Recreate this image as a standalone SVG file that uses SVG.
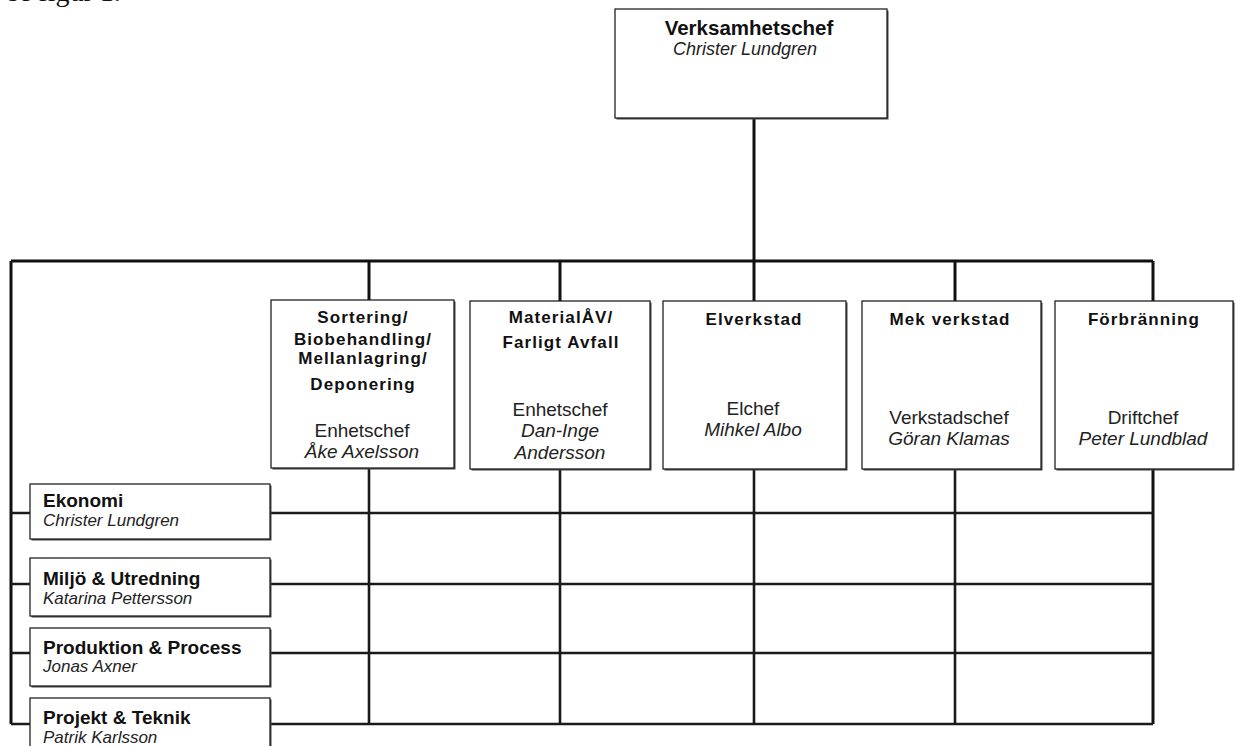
<svg xmlns="http://www.w3.org/2000/svg" width="1235" height="746" viewBox="0 0 1235 746">
<style>
.bg{fill:#fff}
.box{fill:#fff;stroke:#222;stroke-width:1.3}
.sh{fill:#444}
.ln{stroke:#111;stroke-width:3;fill:none}
.gl{stroke:#1a1a1a;stroke-width:2.6;fill:none}
.t{font-family:"Liberation Sans",Arial,sans-serif;fill:#111}
.hb{font-weight:bold;font-size:17px;letter-spacing:1.1px;text-anchor:middle}
.rg{font-size:19px;text-anchor:middle;fill:#222}
.it{font-style:italic;fill:#222}
.lb{font-weight:bold;font-size:19px}
.li{font-style:italic;font-size:17px;fill:#222}
</style>
<rect class="bg" x="0" y="0" width="1235" height="746"/>
<text x="8" y="0.5" font-family="Liberation Serif, serif" font-size="28" fill="#111">se figur 1.</text>
<g id="connectors">
<line class="ln" x1="754" y1="119" x2="754" y2="261"/>
<line class="ln" x1="11" y1="261" x2="1153" y2="261"/>
<line class="ln" x1="11" y1="261" x2="11" y2="724"/>
<line class="ln" x1="1153" y1="261" x2="1153" y2="724"/>
<line class="ln" x1="369" y1="261" x2="369" y2="300"/>
<line class="ln" x1="560" y1="261" x2="560" y2="301"/>
<line class="ln" x1="754" y1="261" x2="754" y2="301"/>
<line class="ln" x1="955" y1="261" x2="955" y2="301"/>
<line class="gl" x1="369" y1="468" x2="369" y2="724"/>
<line class="gl" x1="560" y1="469" x2="560" y2="724"/>
<line class="gl" x1="754" y1="469" x2="754" y2="724"/>
<line class="gl" x1="955" y1="469" x2="955" y2="724"/>
<line class="gl" x1="11" y1="513" x2="1153" y2="513"/>
<line class="gl" x1="11" y1="584" x2="1153" y2="584"/>
<line class="gl" x1="11" y1="653" x2="1153" y2="653"/>
<line class="gl" x1="11" y1="724" x2="1153" y2="724"/>
</g>
<g id="verksamhetschef">
<rect class="sh" x="616.5" y="10.5" width="272" height="109"/>
<rect class="box" x="615" y="9" width="272" height="109"/>
<text class="t" x="749" y="35" font-weight="bold" font-size="20.5" text-anchor="middle">Verksamhetschef</text>
<text class="t it" x="745" y="55" font-size="18" text-anchor="middle">Christer Lundgren</text>
</g>
<g id="sortering">
<rect class="sh" x="272.5" y="301.5" width="183" height="168"/>
<rect class="box" x="271" y="300" width="183" height="168"/>
<text class="t hb" x="363" y="323">Sortering/</text>
<text class="t hb" x="363" y="345">Biobehandling/</text>
<text class="t hb" x="363" y="364">Mellanlagring/</text>
<text class="t hb" x="363" y="390">Deponering</text>
<text class="t rg" x="362" y="437">Enhetschef</text>
<text class="t rg it" x="362" y="458">Åke Axelsson</text>
</g>
<g id="material">
<rect class="sh" x="471.5" y="302.5" width="180" height="168"/>
<rect class="box" x="470" y="301" width="180" height="168"/>
<text class="t hb" x="561" y="323">MaterialÅV/</text>
<text class="t hb" x="561" y="348">Farligt Avfall</text>
<text class="t rg" x="560" y="416">Enhetschef</text>
<text class="t rg it" x="560" y="437">Dan-Inge</text>
<text class="t rg it" x="560" y="459">Andersson</text>
</g>
<g id="elverkstad">
<rect class="sh" x="664.5" y="302.5" width="183" height="168"/>
<rect class="box" x="663" y="301" width="183" height="168"/>
<text class="t hb" x="754" y="325">Elverkstad</text>
<text class="t rg" x="753" y="415">Elchef</text>
<text class="t rg it" x="753" y="436">Mihkel Albo</text>
</g>
<g id="mekverkstad">
<rect class="sh" x="863.5" y="302.5" width="179" height="168"/>
<rect class="box" x="862" y="301" width="179" height="168"/>
<text class="t hb" x="950" y="325">Mek verkstad</text>
<text class="t rg" x="949" y="424">Verkstadschef</text>
<text class="t rg it" x="949" y="445">Göran Klamas</text>
</g>
<g id="forbranning">
<rect class="sh" x="1056.5" y="302.5" width="178" height="168"/>
<rect class="box" x="1055" y="301" width="178" height="168"/>
<text class="t hb" x="1144" y="325">Förbränning</text>
<text class="t rg" x="1143" y="424">Driftchef</text>
<text class="t rg it" x="1143" y="445">Peter Lundblad</text>
</g>
<g id="ekonomi">
<rect class="sh" x="31.5" y="485.5" width="240" height="55"/>
<rect class="box" x="30" y="484" width="240" height="55"/>
<text class="t lb" x="43" y="507">Ekonomi</text>
<text class="t li" x="43" y="526">Christer Lundgren</text>
</g>
<g id="miljo">
<rect class="sh" x="31.5" y="559.5" width="240" height="58"/>
<rect class="box" x="30" y="558" width="240" height="58"/>
<text class="t lb" x="43" y="585">Miljö &amp; Utredning</text>
<text class="t li" x="43" y="604">Katarina Pettersson</text>
</g>
<g id="produktion">
<rect class="sh" x="31.5" y="629.5" width="240" height="58"/>
<rect class="box" x="30" y="628" width="240" height="58"/>
<text class="t lb" x="43" y="654">Produktion &amp; Process</text>
<text class="t li" x="43" y="672">Jonas Axner</text>
</g>
<g id="projekt">
<rect class="sh" x="31.5" y="699.5" width="240" height="62"/>
<rect class="box" x="30" y="698" width="240" height="62"/>
<text class="t lb" x="43" y="724">Projekt &amp; Teknik</text>
<text class="t li" x="43" y="743">Patrik Karlsson</text>
</g>
</svg>
